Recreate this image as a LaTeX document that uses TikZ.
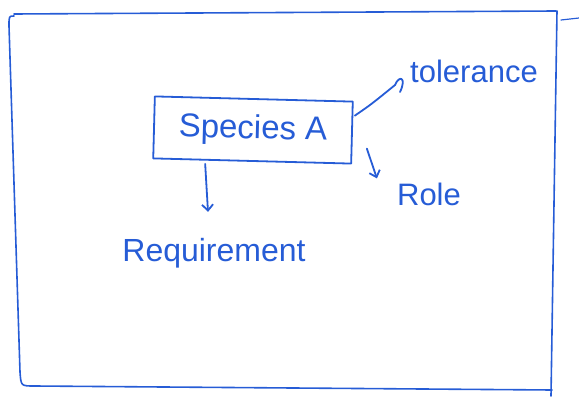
\documentclass[tikz,border=0pt]{standalone}
\usepackage{fontspec}
\setmainfont{Liberation Sans}
\usetikzlibrary{arrows.meta,calc}
\definecolor{ink}{RGB}{38,92,214}
\tikzset{
  ink/.style={draw=ink,line width=1.8pt,line cap=round,line join=round},
  arr/.style={ink,-{Straight Barb[length=6pt,width=11pt]}},
  lbl/.style={text=ink,inner sep=0pt,font=\fontsize{31}{31}\selectfont},
}
\begin{document}
\begin{tikzpicture}[x=1pt,y=-1pt]
\useasboundingbox (0,0) rectangle (579,401);
% outer frame
\draw[ink,line width=1.6pt] (14,16) .. controls (9,16) .. (9,26) -- (20,372)
  .. controls (21,386) .. (34,386) -- (552,390);
\draw[ink,line width=1.6pt] (14,14) -- (556,11);
\draw[ink,line width=1.6pt] (557,11) -- (551,396);
\draw[ink,line width=1.2pt] (561,20) -- (579,18);
% species box
\node[ink,rotate=-1.5,minimum width=198pt,minimum height=62pt,inner sep=0pt,
  text=ink,font=\fontsize{33}{33}\selectfont] (sp) at (253,130) {Species A};
\node[lbl] (tol) at (474,71) {tolerance};
\node[lbl] (role) at (429,194) {Role};
\node[lbl,font=\fontsize{32}{32}\selectfont] (req) at (214,253) {Requirement};
% connectors
\coordinate (th) at ($(tol.west)+(-15,14)$);
\draw[ink] ($(sp.east)+(2,-17)$) .. controls ($(sp.east)+(18,-28)$) .. (th)
  .. controls ($(th)+(4,-10)$) and ($(th)+(12,-8)$) .. ($(th)+(5,7)$);
\draw[arr] ($(sp.east)+(14,16)$) -- ($(role.north west)+(-20,-4)$);
\draw[arr] ($(sp.south)+(-47,2)$) -- ($(req.north)+(-6,-26)$);
\end{tikzpicture}
\end{document}
